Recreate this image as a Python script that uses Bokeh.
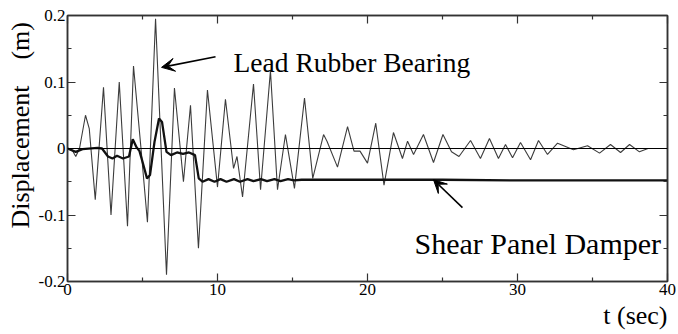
from bokeh.plotting import figure
from bokeh.models import (Range1d, LinearAxis, FixedTicker, Label, Arrow,
                          VeeHead, Span, Title)
from bokeh.embed import file_html
from bokeh.resources import INLINE

# ---- data ----
lrb_t = [0, 0.3, 0.55, 0.8, 1.2, 1.45, 1.85, 2.4, 2.9, 3.45, 4.0, 4.4, 4.9,
         5.33, 5.87, 6.6, 7.13, 7.73, 8.2, 8.73, 9.33, 10.0, 10.53, 11.07,
         11.3, 11.67, 12.4, 12.87, 13.53, 14.0, 14.53, 15.13, 15.8, 16.35,
         17.07, 17.3, 18.0, 18.67, 19.1, 19.5, 20.0, 20.55, 21.1, 21.73,
         22.33, 22.67, 23.07, 23.73, 24.4, 25.03, 25.6, 26.1, 26.87, 27.53,
         28.13, 28.73, 29.2, 29.67, 30.2, 30.87, 31.4, 32.0, 32.67, 33.73,
         34.67, 35.47, 36.2, 36.87, 37.47, 38.13, 38.7, 40.0]
lrb_d = [0, -0.002, -0.012, 0.0, 0.05, 0.03, -0.077, 0.092, -0.1, 0.1,
         -0.117, 0.124, 0.0, -0.111, 0.195, -0.19, 0.091, -0.05, 0.065,
         -0.15, 0.088, -0.058, 0.074, -0.03, -0.012, -0.073, 0.097, -0.062,
         0.117, -0.062, 0.021, -0.06, 0.076, -0.045, 0.021, 0.011, -0.028,
         0.033, -0.004, -0.004, -0.022, 0.038, -0.055, 0.024, -0.015, 0.011,
         -0.009, 0.021, -0.021, 0.021, -0.005, -0.012, 0.012, -0.015, 0.015,
         -0.015, 0.006, -0.014, 0.009, -0.017, 0.012, -0.009, 0.008, -0.002,
         0.004, -0.007, 0.006, -0.006, 0.006, -0.005, 0.0, 0.0]

spd_t = [0, 0.55, 1.0, 2.0, 2.3, 2.7, 3.0, 3.3, 3.7, 4.1, 4.35, 4.6, 4.8,
         5.0, 5.3, 5.5, 5.8, 6.1, 6.3, 6.6, 6.9, 7.3, 7.7, 8.1, 8.5, 8.75,
         9.0, 9.4, 9.8, 10.2, 10.6, 11.1, 11.5, 12.0, 12.4, 12.9, 13.3,
         13.8, 14.2, 14.7, 15.1, 15.6, 17.0, 20.0, 25.0, 30.0, 35.0, 40.0]
spd_d = [0, -0.005, -0.001, 0.001, 0.0, -0.012, -0.015, -0.011, -0.015,
         -0.012, 0.014, 0.002, -0.004, -0.02, -0.045, -0.04, 0.01, 0.045,
         0.04, -0.005, -0.01, -0.006, -0.008, -0.006, -0.01, -0.045, -0.05,
         -0.046, -0.05, -0.046, -0.05, -0.046, -0.05, -0.046, -0.049,
         -0.046, -0.049, -0.046, -0.049, -0.046, -0.048, -0.047, -0.047,
         -0.047, -0.047, -0.048, -0.048, -0.048]

x_ticks = [0, 10, 20, 30, 40]
x_minor = [5, 15, 25, 35]
y_ticks = [-0.2, -0.1, 0, 0.1, 0.2]
y_minor = [-0.15, -0.05, 0.05, 0.15]
y_tick_labels = ["-0.2", "-0.1", "0", "0.1", "0.2"]

x_title = "t (sec)"
y_title = "Displacement\u00a0\u00a0\u00a0\u00a0(m)"

FONT = "Liberation Serif"
AX = "#333333"

p = figure(width=676, height=332,
           x_range=Range1d(0, 40), y_range=Range1d(-0.2, 0.2),
           output_backend="svg", toolbar_location=None,
           min_border_left=67, min_border_right=9,
           min_border_top=15, min_border_bottom=51)
p.outline_line_color = AX
p.outline_line_width = 1.5
p.xgrid.visible = False
p.ygrid.visible = False
p.background_fill_color = "white"
p.border_fill_color = "white"

def style_axis(ax, ticks, minor, labels=True):
    ax.ticker = FixedTicker(ticks=ticks, minor_ticks=minor)
    ax.axis_line_color = AX
    ax.axis_line_width = 1.5
    ax.major_tick_line_color = AX
    ax.minor_tick_line_color = AX
    ax.major_tick_line_width = 1.2
    ax.minor_tick_line_width = 1.2
    ax.major_tick_in = 8
    ax.major_tick_out = 0
    ax.minor_tick_in = 4
    ax.minor_tick_out = 0
    if labels:
        ax.major_label_text_font = FONT
        ax.major_label_text_font_size = "17px"
        ax.major_label_text_color = "black"
        ax.major_label_standoff = 2
    else:
        ax.major_label_text_font_size = "1px"
        ax.major_label_text_color = None
        ax.major_label_standoff = 0

style_axis(p.xaxis[0], x_ticks, x_minor)
style_axis(p.yaxis[0], y_ticks, y_minor)
p.yaxis[0].major_label_overrides = {v: s for v, s in zip(y_ticks, y_tick_labels)}

top = LinearAxis()
style_axis(top, x_ticks, x_minor, labels=False)
p.add_layout(top, "above")
right = LinearAxis()
style_axis(right, y_ticks, y_minor, labels=False)
p.add_layout(right, "right")

p.add_layout(Title(text=y_title, align="left", offset=53, standoff=2,
                   text_font=FONT, text_font_size="26px",
                   text_font_style="normal", text_color="black"), "left")
p.add_layout(Title(text=x_title, align="right", offset=0, standoff=2,
                   text_font=FONT, text_font_size="26px",
                   text_font_style="normal", text_color="black"), "below")

p.add_layout(Span(location=0, dimension="width", line_color="black",
                  line_width=1))

p.line(lrb_t, lrb_d, line_color="#3c3c3c", line_width=1.1)
p.line(spd_t, spd_d, line_color="#111111", line_width=2.3)

def lab(x, y, text, size):
    p.add_layout(Label(x=x, y=y, text=text, text_font=FONT,
                       text_font_size=size, text_color="black",
                       text_baseline="alphabetic", text_align="left"))

lab(11.07, 0.129, "Lead Rubber Bearing", "27.5px")
lab(23.13, -0.143, "Shear Panel Damper", "30px")

head = dict(size=13, fill_color="black", line_color="black", line_width=1)
p.add_layout(Arrow(end=VeeHead(**head),
                   x_start=9.87, y_start=0.138, x_end=6.27, y_end=0.122,
                   line_color="black", line_width=1.6))
p.add_layout(Arrow(end=VeeHead(**head),
                   x_start=26.33, y_start=-0.089, x_end=24.4, y_end=-0.047,
                   line_color="black", line_width=1.6))

open("out.html", "w").write(file_html(p, INLINE))
